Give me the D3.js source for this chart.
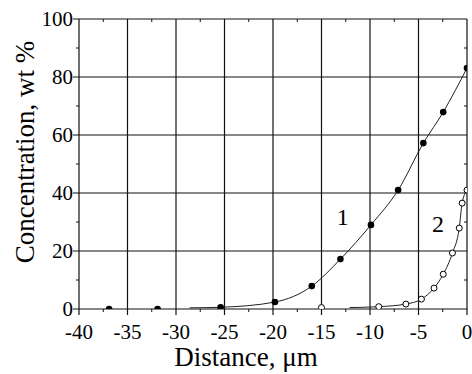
<!DOCTYPE html>
<html>
<head>
<meta charset="utf-8">
<script src="https://cdn.jsdelivr.net/npm/d3@7"></script>
<style>
  body { margin: 0; background: #fff; }
  .grid-line { stroke: #111; stroke-width: 1.2; }
</style>
</head>
<body>
<div id="chart"></div>
<script>
// Tick values
const xTicks = [-40, -35, -30, -25, -20, -15, -10, -5, 0];
const yTicks = [0, 20, 40, 60, 80, 100];
const xMinor = [-37.5, -32.5, -27.5, -22.5, -17.5, -12.5, -7.5, -2.5];
const yMinor = [10, 30, 50, 70, 90];

// Measured points, curve 1 (filled) and curve 2 (open)
const dist1 = [-36.9, -31.9, -25.4, -19.8, -16.0, -13.05, -9.9, -7.1, -4.5, -2.45, 0];
const conc1 = [0, 0, 0.6, 2.4, 7.9, 17.2, 29.0, 41.0, 57.2, 67.9, 83.1];
const dist2 = [-15, -9.1, -6.3, -4.7, -3.4, -2.45, -1.5, -0.8, -0.5, 0];
const conc2 = [0.5, 0.8, 1.7, 3.4, 7.2, 12.0, 19.3, 27.9, 36.5, 41.0];

// Fitted lines as drawn
const fitDist1 = [-28.6, -25.4, -19.8, -16.0, -13.05, -9.9, -7.1, -4.5, -2.45, 0];
const fitConc1 = [0.4, 0.6, 2.4, 7.9, 17.2, 29.0, 41.0, 57.2, 67.9, 83.1];
const fitDist2 = [-12.1, -9.1, -6.3, -4.7, -3.4, -2.45, -1.5, -0.8, -0.5, 0];
const fitConc2 = [0.5, 0.8, 1.7, 3.4, 7.2, 12.0, 19.3, 27.9, 36.5, 41.0];

const curveLabels = ["1", "2"];
const labelPos = [[-12.8, 29], [-3.0, 26.5]];

const W = 472, H = 374;
const margin = { top: 19, right: 5, bottom: 65, left: 79 };
const serif = "'Liberation Serif', 'Times New Roman', 'DejaVu Serif', serif";

const svg = d3.select("#chart").append("svg")
    .attr("width", W)
    .attr("height", H)
    .style("font-family", serif);

const x = d3.scaleLinear().domain([-40, 0]).range([margin.left, W - margin.right]);
const y = d3.scaleLinear().domain([0, 100]).range([H - margin.bottom, margin.top]);

const x0 = x.range()[0], x1 = x.range()[1];
const y0 = y.range()[0], y1 = y.range()[1];

// Grid lines (vertical, incl. frame) with outward stubs at the bottom
svg.append("g").selectAll("line")
    .data(xTicks)
    .join("line")
    .attr("class", "grid-line")
    .attr("x1", d => x(d)).attr("x2", d => x(d))
    .attr("y1", y1).attr("y2", y0 + 6);

// Horizontal grid lines with outward stubs at left
svg.append("g").selectAll("line")
    .data(yTicks)
    .join("line")
    .attr("class", "grid-line")
    .attr("x1", x0 - 6).attr("x2", x1)
    .attr("y1", d => y(d)).attr("y2", d => y(d));

// Minor ticks
const minor = svg.append("g").attr("stroke", "#111").attr("stroke-width", 1);
minor.selectAll(".mb").data(xMinor).join("line")
    .attr("x1", d => x(d)).attr("x2", d => x(d))
    .attr("y1", y0).attr("y2", y0 + 3);
minor.selectAll(".mt").data(xMinor).join("line")
    .attr("x1", d => x(d)).attr("x2", d => x(d))
    .attr("y1", y1).attr("y2", y1 + 3);
minor.selectAll(".ml").data(yMinor).join("line")
    .attr("x1", x0 - 3).attr("x2", x0)
    .attr("y1", d => y(d)).attr("y2", d => y(d));
minor.selectAll(".mr").data(yMinor).join("line")
    .attr("x1", x1 - 3).attr("x2", x1)
    .attr("y1", d => y(d)).attr("y2", d => y(d));

// Tick labels
svg.append("g").selectAll("text")
    .data(xTicks)
    .join("text")
    .attr("x", d => x(d))
    .attr("y", 339)
    .attr("text-anchor", "middle")
    .attr("font-family", serif)
    .attr("font-size", 21)
    .text(d => d);

svg.append("g").selectAll("text")
    .data(yTicks)
    .join("text")
    .attr("x", x0 - 6)
    .attr("y", d => y(d))
    .attr("dy", "0.33em")
    .attr("text-anchor", "end")
    .attr("font-family", serif)
    .attr("font-size", 21)
    .text(d => d);

// Axis titles
svg.append("text")
    .attr("x", 246)
    .attr("y", 366)
    .attr("text-anchor", "middle")
    .attr("font-family", serif)
    .attr("font-size", 27)
    .text("Distance, \u03bcm");

svg.append("text")
    .attr("transform", "rotate(-90)")
    .attr("x", -152)
    .attr("y", 34)
    .attr("text-anchor", "middle")
    .attr("font-family", serif)
    .attr("font-size", 27)
    .text("Concentration, wt %");

// Clip to plot area
svg.append("defs").append("clipPath")
    .attr("id", "plot-clip")
    .append("rect")
    .attr("x", x0).attr("y", y1)
    .attr("width", x1 - x0).attr("height", y0 - y1);

const plot = svg.append("g").attr("clip-path", "url(#plot-clip)");

const line = d3.line()
    .x(d => x(d[0]))
    .y(d => y(d[1]))
    .curve(d3.curveMonotoneX);

const fit1 = fitDist1.map((d, i) => [d, fitConc1[i]]);
const fit2 = fitDist2.map((d, i) => [d, fitConc2[i]]);

[fit1, fit2].forEach(f => {
    plot.append("path")
        .datum(f)
        .attr("fill", "none")
        .attr("stroke", "#222")
        .attr("stroke-width", 1)
        .attr("d", line);
});

const pts1 = dist1.map((d, i) => [d, conc1[i]]);
const pts2 = dist2.map((d, i) => [d, conc2[i]]);

plot.append("g").selectAll("circle")
    .data(pts1)
    .join("circle")
    .attr("cx", d => x(d[0]))
    .attr("cy", d => y(d[1]))
    .attr("r", 3.3)
    .attr("fill", "#000");

plot.append("g").selectAll("circle")
    .data(pts2)
    .join("circle")
    .attr("cx", d => x(d[0]))
    .attr("cy", d => y(d[1]))
    .attr("r", 3)
    .attr("fill", "#fff")
    .attr("stroke", "#000")
    .attr("stroke-width", 1);

// Curve labels
svg.append("g").selectAll("text")
    .data(curveLabels)
    .join("text")
    .attr("x", (d, i) => x(labelPos[i][0]))
    .attr("y", (d, i) => y(labelPos[i][1]))
    .attr("text-anchor", "middle")
    .attr("font-family", serif)
    .attr("font-size", 24)
    .text(d => d);
</script>
</body>
</html>
